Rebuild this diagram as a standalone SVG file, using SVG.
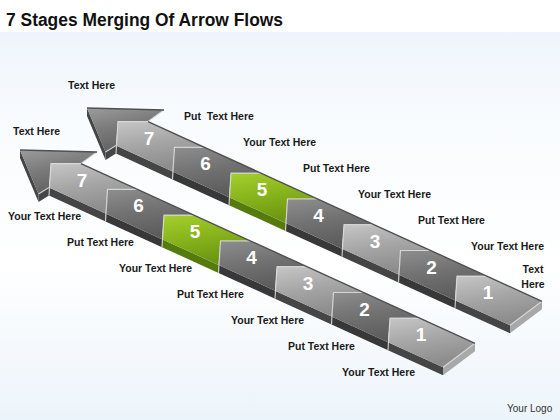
<svg xmlns="http://www.w3.org/2000/svg" width="560" height="420" viewBox="0 0 560 420">
<defs>
<linearGradient id="bg" x1="0" y1="0" x2="0" y2="1">
<stop offset="0" stop-color="#edf5fc"/><stop offset="0.22" stop-color="#f8fbfe"/><stop offset="0.6" stop-color="#ffffff"/><stop offset="1" stop-color="#ecf4fb"/>
</linearGradient>
<linearGradient id="gL" x1="0" y1="0" x2="0.3" y2="1">
<stop offset="0" stop-color="#c6c6c6"/><stop offset="0.5" stop-color="#a6a6a6"/><stop offset="1" stop-color="#8c8c8c"/>
</linearGradient>
<linearGradient id="gD" x1="0" y1="0" x2="0.3" y2="1">
<stop offset="0" stop-color="#8e8e8e"/><stop offset="0.5" stop-color="#727272"/><stop offset="1" stop-color="#5c5c5c"/>
</linearGradient>
<linearGradient id="gG" x1="0" y1="0" x2="0.3" y2="1">
<stop offset="0" stop-color="#a6cf2e"/><stop offset="0.5" stop-color="#88b51c"/><stop offset="1" stop-color="#6c9612"/>
</linearGradient>
<linearGradient id="gH" x1="0" y1="0" x2="0.4" y2="1">
<stop offset="0" stop-color="#9c9c9c"/><stop offset="0.5" stop-color="#7a7a7a"/><stop offset="1" stop-color="#606060"/>
</linearGradient>
<style>
.fr{fill:#454545}
.frd{fill:#383838}
.frg{fill:#557a0e}
.cap{fill:#a8a8a8}
.hl{fill:none;stroke:#dcdcdc;stroke-width:1.2;stroke-opacity:0.85}
.rim{fill:none;stroke:#505050;stroke-width:1.4}
.num{font-family:"Liberation Sans",Arial,sans-serif;font-weight:bold;font-size:19px;fill:#ffffff;text-anchor:middle}
.lbl{font-family:"Liberation Sans",Arial,sans-serif;font-weight:bold;font-size:10.5px;fill:#1a1a1a}
.ttl{font-family:"Liberation Sans",Arial,sans-serif;font-weight:bold;font-size:18px;fill:#111111}
</style>
</defs>
<rect x="0" y="0" width="560" height="420" fill="#ffffff"/>
<rect x="0" y="32" width="560" height="388" fill="url(#bg)"/>
<text class="ttl" x="6" y="26" textLength="277" lengthAdjust="spacingAndGlyphs">7 Stages Merging Of Arrow Flows</text>

<!-- Upper arrow -->
<g id="arrowUpper" transform="translate(67,-42)">
<g id="u-head">
<polygon class="fr" points="20,150 38.5,194 38.5,202 20,158"/>
<polygon class="fr" points="38.5,194 49,187.6 49,195.6 38.5,202"/>
<polygon fill="url(#gH)" points="20,150 97,152 81,163.6 51,163.6 49,187.6 38.5,194"/>
<polyline class="hl" points="97,152 81,163.6"/>
<polyline class="hl" points="49,187.6 38.5,194"/>
<polyline class="rim" points="20,150 97,152"/>
</g>
<g id="u-s7">
<polygon class="fr" points="49,187.6 105.5,213.4 105.5,221.4 49,195.6"/>
<polygon fill="url(#gL)" points="81,163.6 137.5,189.4 107.5,189.4 105.5,213.4 49,187.6 51,163.6"/>
<polyline class="hl" points="81,163.6 51,163.6 49,195.6"/>
<text class="num" x="82" y="186.6">7</text>
</g>
<g id="u-s6">
<polygon class="frd" points="105.5,213.4 162,239.2 162,247.2 105.5,221.4"/>
<polygon fill="url(#gD)" points="137.5,189.4 194,215.2 164,215.2 162,239.2 105.5,213.4 107.5,189.4"/>
<polyline class="hl" points="137.5,189.4 107.5,189.4 105.5,221.4"/>
<text class="num" x="138.5" y="212.4">6</text>
</g>
<g id="u-s5">
<polygon class="frg" points="162,239.2 218.5,264.9 218.5,272.9 162,247.2"/>
<polygon fill="url(#gG)" points="194,215.2 250.5,240.9 220.5,240.9 218.5,264.9 162,239.2 164,215.2"/>
<polyline class="hl" points="194,215.2 164,215.2 162,247.2"/>
<text class="num" x="195" y="238.2">5</text>
</g>
<g id="u-s4">
<polygon class="frd" points="218.5,264.9 275,290.7 275,298.7 218.5,272.9"/>
<polygon fill="url(#gD)" points="250.5,240.9 307,266.7 277,266.7 275,290.7 218.5,264.9 220.5,240.9"/>
<polyline class="hl" points="250.5,240.9 220.5,240.9 218.5,272.9"/>
<text class="num" x="251.5" y="263.9">4</text>
</g>
<g id="u-s3">
<polygon class="fr" points="275,290.7 331.5,316.5 331.5,324.5 275,298.7"/>
<polygon fill="url(#gL)" points="307,266.7 363.5,292.5 333.5,292.5 331.5,316.5 275,290.7 277,266.7"/>
<polyline class="hl" points="307,266.7 277,266.7 275,298.7"/>
<text class="num" x="308" y="289.7">3</text>
</g>
<g id="u-s2">
<polygon class="frd" points="331.5,316.5 388,342.2 388,350.2 331.5,324.5"/>
<polygon fill="url(#gD)" points="363.5,292.5 420,318.2 390,318.2 388,342.2 331.5,316.5 333.5,292.5"/>
<polyline class="hl" points="363.5,292.5 333.5,292.5 331.5,324.5"/>
<text class="num" x="364.5" y="315.5">2</text>
</g>
<g id="u-s1">
<polygon class="fr" points="388,342.2 443,367.3 443,375.3 388,350.2"/>
<polygon class="cap" points="475,343.3 443,367.3 443,375.3 475,351.3"/>
<polygon fill="url(#gL)" points="420,318.2 475,343.3 443,367.3 388,342.2 390,318.2"/>
<polyline class="hl" points="420,318.2 390,318.2 388,350.2"/>
<polyline class="hl" points="475,343.3 443,367.3"/>
<text class="num" x="421" y="341">1</text>
</g>
<polyline class="rim" points="81,163.6 475,343.3"/>
</g>

<!-- Lower arrow -->
<g id="arrowLower">
<g id="l-head">
<polygon class="fr" points="20,150 38.5,194 38.5,202 20,158"/>
<polygon class="fr" points="38.5,194 49,187.6 49,195.6 38.5,202"/>
<polygon fill="url(#gH)" points="20,150 97,152 81,163.6 51,163.6 49,187.6 38.5,194"/>
<polyline class="hl" points="97,152 81,163.6"/>
<polyline class="hl" points="49,187.6 38.5,194"/>
<polyline class="rim" points="20,150 97,152"/>
</g>
<g id="l-s7">
<polygon class="fr" points="49,187.6 105.5,213.4 105.5,221.4 49,195.6"/>
<polygon fill="url(#gL)" points="81,163.6 137.5,189.4 107.5,189.4 105.5,213.4 49,187.6 51,163.6"/>
<polyline class="hl" points="81,163.6 51,163.6 49,195.6"/>
<text class="num" x="82" y="186.6">7</text>
</g>
<g id="l-s6">
<polygon class="frd" points="105.5,213.4 162,239.2 162,247.2 105.5,221.4"/>
<polygon fill="url(#gD)" points="137.5,189.4 194,215.2 164,215.2 162,239.2 105.5,213.4 107.5,189.4"/>
<polyline class="hl" points="137.5,189.4 107.5,189.4 105.5,221.4"/>
<text class="num" x="138.5" y="212.4">6</text>
</g>
<g id="l-s5">
<polygon class="frg" points="162,239.2 218.5,264.9 218.5,272.9 162,247.2"/>
<polygon fill="url(#gG)" points="194,215.2 250.5,240.9 220.5,240.9 218.5,264.9 162,239.2 164,215.2"/>
<polyline class="hl" points="194,215.2 164,215.2 162,247.2"/>
<text class="num" x="195" y="238.2">5</text>
</g>
<g id="l-s4">
<polygon class="frd" points="218.5,264.9 275,290.7 275,298.7 218.5,272.9"/>
<polygon fill="url(#gD)" points="250.5,240.9 307,266.7 277,266.7 275,290.7 218.5,264.9 220.5,240.9"/>
<polyline class="hl" points="250.5,240.9 220.5,240.9 218.5,272.9"/>
<text class="num" x="251.5" y="263.9">4</text>
</g>
<g id="l-s3">
<polygon class="fr" points="275,290.7 331.5,316.5 331.5,324.5 275,298.7"/>
<polygon fill="url(#gL)" points="307,266.7 363.5,292.5 333.5,292.5 331.5,316.5 275,290.7 277,266.7"/>
<polyline class="hl" points="307,266.7 277,266.7 275,298.7"/>
<text class="num" x="308" y="289.7">3</text>
</g>
<g id="l-s2">
<polygon class="frd" points="331.5,316.5 388,342.2 388,350.2 331.5,324.5"/>
<polygon fill="url(#gD)" points="363.5,292.5 420,318.2 390,318.2 388,342.2 331.5,316.5 333.5,292.5"/>
<polyline class="hl" points="363.5,292.5 333.5,292.5 331.5,324.5"/>
<text class="num" x="364.5" y="315.5">2</text>
</g>
<g id="l-s1">
<polygon class="fr" points="388,342.2 443,367.3 443,375.3 388,350.2"/>
<polygon class="cap" points="475,343.3 443,367.3 443,375.3 475,351.3"/>
<polygon fill="url(#gL)" points="420,318.2 475,343.3 443,367.3 388,342.2 390,318.2"/>
<polyline class="hl" points="420,318.2 390,318.2 388,350.2"/>
<polyline class="hl" points="475,343.3 443,367.3"/>
<text class="num" x="421" y="341">1</text>
</g>
<polyline class="rim" points="81,163.6 475,343.3"/>
</g>

<!-- Labels -->
<g id="labels">
<text class="lbl" x="68" y="89">Text Here</text>
<text class="lbl" x="13" y="135">Text Here</text>
<text class="lbl" x="184" y="120" xml:space="preserve">Put  Text Here</text>
<text class="lbl" x="243" y="146">Your Text Here</text>
<text class="lbl" x="303" y="172">Put Text Here</text>
<text class="lbl" x="358" y="198">Your Text Here</text>
<text class="lbl" x="418" y="224">Put Text Here</text>
<text class="lbl" x="471" y="250">Your Text Here</text>
<text class="lbl" x="533" y="273" text-anchor="middle">Text</text>
<text class="lbl" x="533" y="288" text-anchor="middle">Here</text>
<text class="lbl" x="8" y="220">Your Text Here</text>
<text class="lbl" x="67" y="246">Put Text Here</text>
<text class="lbl" x="119" y="272">Your Text Here</text>
<text class="lbl" x="177" y="298">Put Text Here</text>
<text class="lbl" x="231" y="324">Your Text Here</text>
<text class="lbl" x="288" y="350">Put Text Here</text>
<text class="lbl" x="342" y="376">Your Text Here</text>
</g>
<text x="507" y="412" font-family="'Liberation Sans',Arial,sans-serif" font-size="10px" fill="#333333">Your Logo</text>
</svg>
